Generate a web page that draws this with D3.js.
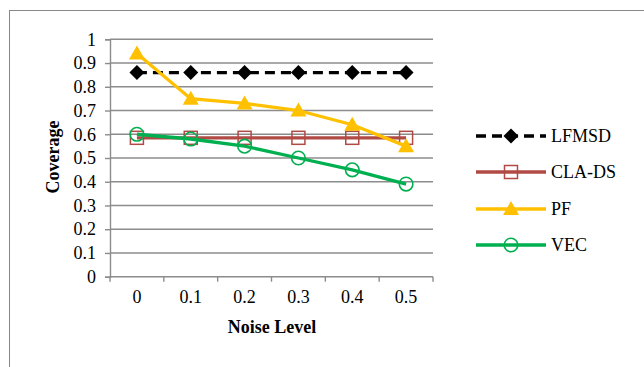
<!DOCTYPE html>
<html>
<head>
<meta charset="utf-8">
<script src="https://cdn.jsdelivr.net/npm/d3@7"></script>
<style>
  body { margin: 0; background: white; }
  svg text { font-family: serif; }
</style>
</head>
<body>
<div id="container"></div>
<script>
let w = 644;
let h = 367;

// DATA
let noiseLevels = ["0", "0.1", "0.2", "0.3", "0.4", "0.5"];
let lfmsd = [0.86, 0.86, 0.86, 0.86, 0.86, 0.86];
let clads = [0.585, 0.585, 0.585, 0.585, 0.585, 0.585];
let pf = [0.94, 0.75, 0.73, 0.70, 0.64, 0.55];
let vec = [0.60, 0.58, 0.55, 0.50, 0.45, 0.39];
let yTicks = [0, 0.1, 0.2, 0.3, 0.4, 0.5, 0.6, 0.7, 0.8, 0.9, 1];
let seriesNames = ["LFMSD", "CLA-DS", "PF", "VEC"];

let series = [
  {name: "LFMSD", values: lfmsd, color: "#000000", dash: "10,6", marker: "diamond"},
  {name: "CLA-DS", values: clads, color: "#b04a45", dash: null, marker: "square"},
  {name: "PF", values: pf, color: "#ffc000", dash: null, marker: "triangle"},
  {name: "VEC", values: vec, color: "#00b050", dash: null, marker: "circle"}
];

let fontSize = 18;

let viz = d3.select("#container").append("svg")
    .attr("width", w)
    .attr("height", h)
    .style("display", "block");

// outer chart border
viz.append("rect")
  .attr("x", 9.5).attr("y", 10.5)
  .attr("width", 700).attr("height", 400)
  .attr("fill", "none")
  .attr("stroke", "#888")
  .attr("stroke-width", 1);

let plotLeft = 110, plotRight = 433, plotTop = 39.3, plotBottom = 276.7;

let xScale = d3.scaleBand().domain(noiseLevels).range([plotLeft, plotRight]);
let yScale = d3.scaleLinear().domain([0, 1]).range([plotBottom, plotTop]);

// gridlines
viz.selectAll(".grid").data(yTicks.slice(1)).enter()
  .append("line")
    .attr("x1", plotLeft).attr("x2", plotRight)
    .attr("y1", d => yScale(d)).attr("y2", d => yScale(d))
    .attr("stroke", "#8c8c8c")
    .attr("stroke-width", 1.4);

// y axis
let yAxis = d3.axisLeft(yScale).tickValues(yTicks).tickSize(5).tickPadding(9)
  .tickFormat(d => d3.format("")(d));
let yg = viz.append("g").attr("transform", `translate(${plotLeft},0)`).call(yAxis);
yg.attr("font-family", null).attr("font-size", null);
yg.select(".domain").attr("stroke", "#8c8c8c").attr("stroke-width", 1.4);
yg.selectAll(".tick line").attr("stroke", "#8c8c8c").attr("stroke-width", 1.4);
yg.selectAll("text").style("font-size", fontSize + "px").attr("fill", "#000");

// x axis
let xAxis = d3.axisBottom(xScale).tickSize(0).tickPadding(14);
let xg = viz.append("g").attr("transform", `translate(0,${plotBottom})`).call(xAxis);
xg.attr("font-family", null).attr("font-size", null);
xg.select(".domain").attr("stroke", "#8c8c8c").attr("stroke-width", 1.4).attr("d", `M${plotLeft},0H${plotRight}`);
xg.selectAll("text").style("font-size", fontSize + "px").attr("fill", "#000");
// boundary ticks between categories
let bounds = noiseLevels.map(d => xScale(d)).concat([plotRight]);
viz.selectAll(".xtick").data(bounds).enter()
  .append("line")
    .attr("x1", d => d).attr("x2", d => d)
    .attr("y1", plotBottom).attr("y2", plotBottom + 5)
    .attr("stroke", "#8c8c8c")
    .attr("stroke-width", 1.4);

// axis titles
viz.append("text")
  .attr("transform", "translate(59,157) rotate(-90)")
  .attr("text-anchor", "middle")
  .attr("font-weight", "bold")
  .style("font-size", fontSize + "px")
  .text("Coverage");

viz.append("text")
  .attr("x", 272)
  .attr("y", 332.5)
  .attr("text-anchor", "middle")
  .attr("font-weight", "bold")
  .style("font-size", fontSize + "px")
  .text("Noise Level");

function drawMarker(g, s, x, y) {
  if (s.marker == "diamond") {
    g.append("path")
      .attr("d", `M${x},${y-7.5}L${x+7.5},${y}L${x},${y+7.5}L${x-7.5},${y}Z`)
      .attr("fill", s.color);
  } else if (s.marker == "square") {
    g.append("rect")
      .attr("x", x - 6.5).attr("y", y - 6.5)
      .attr("width", 13).attr("height", 13)
      .attr("fill", "none").attr("stroke", s.color).attr("stroke-width", 1.5);
  } else if (s.marker == "triangle") {
    g.append("path")
      .attr("d", `M${x},${y-8}L${x+8},${y+6}L${x-8},${y+6}Z`)
      .attr("fill", s.color);
  } else {
    g.append("circle")
      .attr("cx", x).attr("cy", y).attr("r", 6.8)
      .attr("fill", "none").attr("stroke", s.color).attr("stroke-width", 1.6);
  }
}

let lineMaker = d3.line()
  .x((d, i) => xScale(noiseLevels[i]) + xScale.bandwidth() / 2)
  .y(d => yScale(d));

// draw series
series.forEach(function(s) {
  let g = viz.append("g");
  g.append("path")
    .attr("d", lineMaker(s.values))
    .attr("fill", "none")
    .attr("stroke", s.color)
    .attr("stroke-width", 3.3)
    .attr("stroke-dasharray", s.dash);
  s.values.forEach(function(v, i) {
    drawMarker(g, s, xScale(noiseLevels[i]) + xScale.bandwidth() / 2, yScale(v));
  });
});

// legend
let legendY = [136, 172, 209, 245];
series.forEach(function(s, i) {
  let g = viz.append("g");
  let y = legendY[i];
  g.append("line")
    .attr("x1", 476).attr("x2", 546)
    .attr("y1", y).attr("y2", y)
    .attr("stroke", s.color)
    .attr("stroke-width", 3.3)
    .attr("stroke-dasharray", s.dash);
  drawMarker(g, s, 511, y);
  g.append("text")
    .attr("x", 551)
    .attr("y", y + 6)
    .style("font-size", fontSize + "px")
    .text(seriesNames[i]);
});
</script>
</body>
</html>
